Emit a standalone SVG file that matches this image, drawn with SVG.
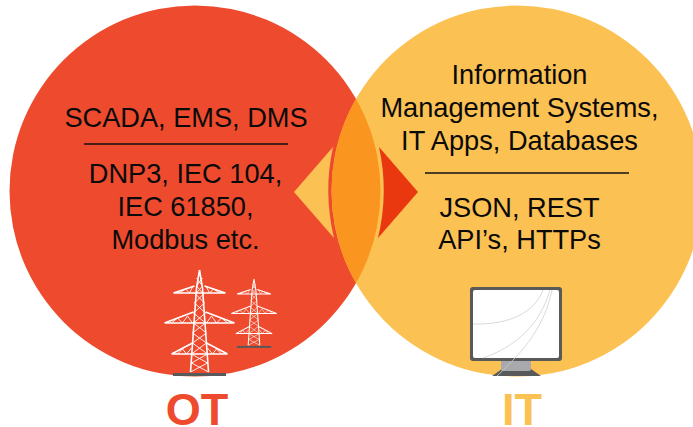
<svg xmlns="http://www.w3.org/2000/svg" xmlns:xlink="http://www.w3.org/1999/xlink" width="693" height="427" viewBox="0 0 693 427">
<style>
text{font-family:"Liberation Sans",Arial,sans-serif;text-anchor:middle;fill:#0a0a0a;font-size:27.2px}
.big{font-weight:700;font-size:45px}
.rule{stroke:#111;stroke-width:1.7;fill:none}
.t{stroke:#fff;fill:none;stroke-width:.9}
.tb{stroke:#fff;fill:none;stroke-width:1.6}
.c{stroke:#cfcfcf;fill:none;stroke-width:.8}
</style>
<defs>
<clipPath id="redClip"><circle cx="195" cy="191" r="185.500"/></clipPath>
<g id="tower">
<path class="tb" d="M0 0L-3 18L-6 60L-9 102M0 0L3 18L6 60L9 102"/>
<path class="tb" d="M-26 23L-5 16M26 23L5 16M-26 23H26M-35 53L-6 42M35 53L6 42M-35 53H35M-28 84L-7 73M28 84L7 73M-28 84H28"/>
<path class="t" d="M-5 23L5 33L-6 43L6 53L-7 63L7 73L-8 84L8 93L-9 102M5 23L-5 33L6 43L-6 53L7 63L-7 73L8 84L-8 93L9 102M-3 8L3 16L-3 23M3 8L-3 16L3 23"/>
<path class="t" d="M-20 23L-14 19L-10 23L-7 17M20 23L14 19L10 23L7 17M-28 53L-22 48L-17 53L-12 46L-7 53M28 53L22 48L17 53L12 46L7 53M-22 84L-17 79L-13 84L-8 78M22 84L17 79L13 84L8 78"/>
<rect x="-26.500" y="103" width="53" height="3" fill="#58595b"/>
</g>
</defs>
<g id="ot-circle"><circle cx="195" cy="191" r="185.500" fill="#ee4a2e"/></g>
<g id="it-circle"><circle cx="517" cy="191" r="185.500" fill="#fcc153"/></g>
<g id="overlap"><circle cx="517" cy="191" r="185.500" fill="#fa961f" clip-path="url(#redClip)"/></g>
<g id="connectors">
<path id="arrow-left" d="M294 192L333 147Q323 192 334 238Z" fill="#fcc153"/>
<path id="arrow-right" d="M418 192L379 147Q389 192 378 238Z" fill="#e9380f"/>
</g>
<g id="ot-text">
<text x="186" y="126.500">SCADA, EMS, DMS</text>
<line class="rule" x1="84" y1="144" x2="288" y2="144"/>
<text x="185.500" y="182.700">DNP3, IEC 104,</text>
<text x="185.500" y="216">IEC 61850,</text>
<text x="185.500" y="249">Modbus etc.</text>
</g>
<g id="it-text">
<text x="519.500" y="84">Information</text>
<text x="519.500" y="117">Management Systems,</text>
<text x="519.500" y="150">IT Apps, Databases</text>
<line class="rule" x1="425" y1="173" x2="629" y2="173"/>
<text x="519.500" y="217">JSON, REST</text>
<text x="519.500" y="249">API’s, HTTPs</text>
</g>
<g id="towers">
<use xlink:href="#tower" href="#tower" transform="translate(199.500 270)"/>
<use xlink:href="#tower" href="#tower" transform="translate(254 279) scale(.65)"/>
</g>
<g id="monitor">
<path d="M492 376L502 369H531L541 376Z" fill="#58595b"/>
<rect x="501" y="360" width="30" height="11" rx="2" fill="#a7a9ac"/>
<rect x="470" y="287" width="92" height="74" rx="3" fill="#58595b"/>
<rect x="473" y="290" width="86" height="68" rx="2" fill="#fff"/>
<path class="c" d="M473 324C510 325 535 312 543 290M483 358C515 347 540 325 550 290M497 376C525 350 545 325 552 290"/>
</g>
<g id="labels">
<text class="big" x="197" y="425" style="fill:#ee4a2e">OT</text>
<text class="big" x="522" y="425" style="fill:#fcc153">IT</text>
</g>
</svg>
